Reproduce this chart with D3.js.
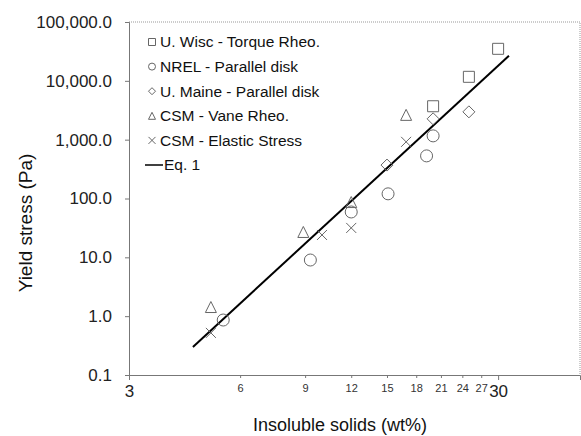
<!DOCTYPE html>
<meta charset="utf-8" />
<script src="https://d3js.org/d3.v7.min.js"></script>
<style>
	body { margin: 0; background: #fff; }
	text { font-family: Arial, 'Liberation Sans', sans-serif; fill: #111; }
</style>
<div id="my_dataviz"></div>
<script>
	// data
	var wiscX = [20, 25, 30];
	var wiscY = [3700, 11700, 35000];
	var nrelX = [5.4, 9.3, 12, 15.1, 19.2, 20];
	var nrelY = [0.86, 9.0, 59, 120, 530, 1160];
	var maineX = [15, 20, 25];
	var maineY = [370, 2260, 2970];
	var vaneX = [5.0, 8.9, 12, 16.9];
	var vaneY = [1.43, 27, 87, 2640];
	var elasticX = [5.0, 10, 12, 16.9];
	var elasticY = [0.52, 24, 31.6, 918];
	var eqX = [4.47, 32.1];
	var eqY = [0.3, 26600];

	var yTicks = [0.1, 1, 10, 100, 1000, 10000, 100000];
	var xMajor = [3, 30];
	var xMinor = [6, 9, 12, 15, 18, 21, 24, 27];

	var legendNames = [
		'U. Wisc - Torque Rheo.',
		'NREL - Parallel disk',
		'U. Maine - Parallel disk',
		'CSM - Vane Rheo.',
		'CSM - Elastic Stress',
		'Eq. 1'
	];

	var width = 581, height = 436;
	var svg = d3.select('#my_dataviz').append('svg')
		.attr('width', width).attr('height', height);

	var x = d3.scaleLog().domain([3, 50]).range([129, 580]);
	var y = d3.scaleLog().domain([0.1, 100000]).range([375, 22]);

	var axisColor = '#777';
	var markColor = '#666';

	// frame (top and right)
	svg.append('path')
		.attr('d', 'M' + x.range()[0] + ',' + y.range()[1] + 'H' + x.range()[1] + 'V' + y.range()[0])
		.attr('fill', 'none').attr('stroke', '#999').attr('stroke-width', 1)
		.attr('stroke-dasharray', '1,1');

	// Y axis
	var yAxis = svg.append('g')
		.attr('transform', 'translate(129,0)')
		.call(d3.axisLeft(y).tickValues(yTicks).tickFormat(d3.format(',.1f')).tickSizeOuter(0).tickSize(4).tickPadding(13));
	yAxis.selectAll('path, line').attr('stroke', axisColor);
	yAxis.selectAll('text').style('font-size', '17px').style('fill', '#222');

	// X axis (major)
	var xAxis = svg.append('g')
		.attr('transform', 'translate(0,375)')
		.call(d3.axisBottom(x).tickValues(xMajor).tickFormat(d3.format('d')).tickSizeOuter(0).tickSize(5).tickPadding(5));
	xAxis.selectAll('path, line').attr('stroke', axisColor);
	xAxis.selectAll('text').style('font-size', '17px').style('fill', '#222');

	// X axis (minor labels)
	var xAxis2 = svg.append('g')
		.attr('transform', 'translate(0,375)')
		.call(d3.axisBottom(x).tickValues(xMinor).tickFormat(d3.format('d')).tickSizeOuter(0).tickSize(3).tickPadding(6));
	xAxis2.select('.domain').remove();
	xAxis2.selectAll('line').attr('stroke', axisColor);
	xAxis2.selectAll('text').style('font-size', '11px').style('fill', '#333');

	// titles
	svg.append('text')
		.attr('x', 340).attr('y', 431)
		.attr('text-anchor', 'middle')
		.style('font-size', '18px')
		.text('Insoluble solids (wt%)');

	svg.append('text')
		.attr('text-anchor', 'middle')
		.attr('transform', 'translate(32,223)rotate(-90)')
		.style('font-size', '19px')
		.text('Yield stress (Pa)');

	// marker shapes
	function shape(kind, s) {
		var h = s / 2;
		if (kind === 'square') return 'M' + -h + ',' + -h + 'h' + s + 'v' + s + 'h' + -s + 'Z';
		if (kind === 'circle') return 'M' + h + ',0A' + h + ',' + h + ' 0 1,1 ' + -h + ',0A' + h + ',' + h + ' 0 1,1 ' + h + ',0Z';
		if (kind === 'diamond') return 'M0,' + -h + 'L' + h + ',0L0,' + h + 'L' + -h + ',0Z';
		if (kind === 'triangle') return 'M0,' + -h + 'L' + h + ',' + h + 'L' + -h + ',' + h + 'Z';
		if (kind === 'x') return 'M' + -h + ',' + -h + 'L' + h + ',' + h + 'M' + -h + ',' + h + 'L' + h + ',' + -h;
	}

	var series = [
		{ xs: wiscX, ys: wiscY, kind: 'square', size: 11 },
		{ xs: nrelX, ys: nrelY, kind: 'circle', size: 12 },
		{ xs: maineX, ys: maineY, kind: 'diamond', size: 12 },
		{ xs: vaneX, ys: vaneY, kind: 'triangle', size: 11 },
		{ xs: elasticX, ys: elasticY, kind: 'x', size: 10 }
	];

	// Eq. 1 line
	svg.append('path')
		.datum(eqX.map(function (d, i) { return [d, eqY[i]]; }))
		.attr('fill', 'none').attr('stroke', '#000').attr('stroke-width', 2)
		.attr('d', d3.line().x(function (d) { return x(d[0]); }).y(function (d) { return y(d[1]); }));

	// points
	series.forEach(function (s) {
		svg.append('g').selectAll('path')
			.data(s.xs.map(function (d, i) { return [d, s.ys[i]]; }))
			.enter().append('path')
			.attr('transform', function (d) { return 'translate(' + x(d[0]) + ',' + y(d[1]) + ')'; })
			.attr('d', shape(s.kind, s.size))
			.attr('fill', 'none').attr('stroke', markColor).attr('stroke-width', 1);
	});

	// legend
	var legend = svg.append('g');
	legendNames.forEach(function (name, i) {
		var ly = 42 + i * 24.6;
		if (i < 5) {
			legend.append('path')
				.attr('transform', 'translate(152,' + ly + ')')
				.attr('d', shape(series[i].kind, 7))
				.attr('fill', 'none').attr('stroke', markColor).attr('stroke-width', 1);
		} else {
			legend.append('line')
				.attr('x1', 145).attr('x2', 163).attr('y1', ly).attr('y2', ly)
				.attr('stroke', '#000').attr('stroke-width', 1.5);
		}
		legend.append('text')
			.attr('x', i < 5 ? 160 : 164).attr('y', ly)
			.attr('dy', '0.35em')
			.style('font-size', '15.5px')
			.text(name);
	});
</script>
